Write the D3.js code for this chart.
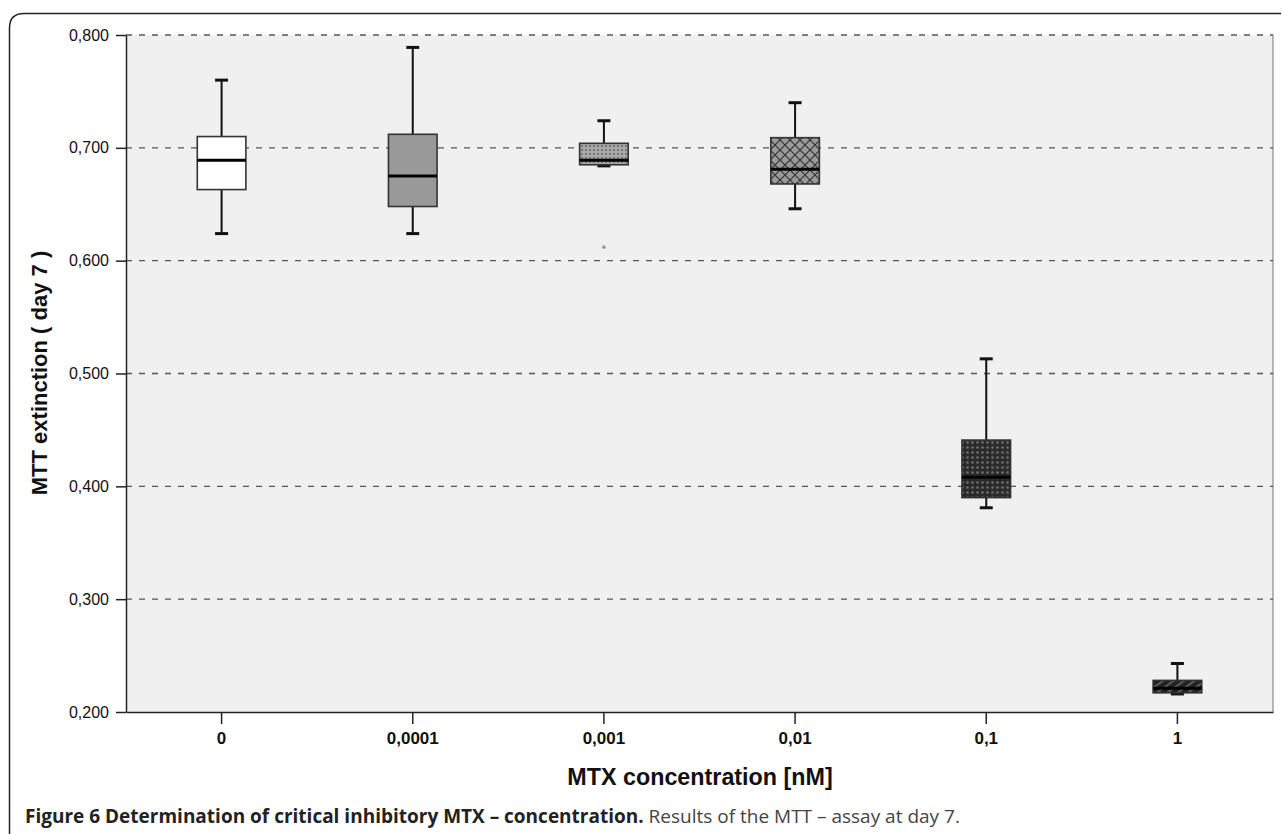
<!DOCTYPE html>
<html><head><meta charset="utf-8">
<script src="https://cdn.jsdelivr.net/npm/d3@7"></script>
<style>body{margin:0;background:#fff}svg{display:block}</style>
</head><body>
<svg id="c" width="1282" height="834"></svg>
<script>
const categories = ["0","0,0001","0,001","0,01","0,1","1"];
const whiskerLow  = [0.624, 0.624, 0.684, 0.646, 0.381, 0.216];
const q1Values    = [0.663, 0.648, 0.685, 0.668, 0.390, 0.217];
const medianValues= [0.689, 0.675, 0.689, 0.681, 0.408, 0.221];
const q3Values    = [0.710, 0.712, 0.704, 0.709, 0.441, 0.228];
const whiskerHigh = [0.760, 0.789, 0.724, 0.740, 0.513, 0.243];
const outliers    = [{cat:"0,001", value:0.612}];
const yTicks = [0.2,0.3,0.4,0.5,0.6,0.7,0.8];
const fills = ["#ffffff","#999999","url(#pDots)","url(#pDiamond)","url(#pDark)","url(#pStripe)"];

const svg = d3.select("#c");
const defs = svg.append("defs");
let p = defs.append("pattern").attr("id","pDots").attr("width",4).attr("height",4).attr("patternUnits","userSpaceOnUse");
p.append("rect").attr("width",4).attr("height",4).attr("fill","#a8a8a8");
p.append("circle").attr("cx",2).attr("cy",2).attr("r",1).attr("fill","#666");
p = defs.append("pattern").attr("id","pDiamond").attr("width",10).attr("height",10).attr("patternUnits","userSpaceOnUse");
p.append("rect").attr("width",10).attr("height",10).attr("fill","#9a9a9a");
p.append("path").attr("d","M0,0L10,10M10,0L0,10").attr("stroke","#333").attr("stroke-width",1.2);
p = defs.append("pattern").attr("id","pDark").attr("width",5).attr("height",5).attr("patternUnits","userSpaceOnUse");
p.append("rect").attr("width",5).attr("height",5).attr("fill","#2a2a2a");
p.append("circle").attr("cx",2.5).attr("cy",2.5).attr("r",1.3).attr("fill","#707070");
p = defs.append("pattern").attr("id","pStripe").attr("width",6).attr("height",6).attr("patternUnits","userSpaceOnUse").attr("patternTransform","rotate(-35)");
p.append("rect").attr("width",6).attr("height",6).attr("fill","#222");
p.append("rect").attr("width",6).attr("height",1.6).attr("fill","#6a6a6a");

svg.append("path")
  .attr("d","M9.5,834 L9.5,28 Q9.5,13.5 24,13.5 L1281,13.5")
  .attr("fill","none").attr("stroke","#222").attr("stroke-width",1.5);

const L=126, R=1273, T=35, B=712;
const x = d3.scaleBand().domain(categories).range([L,R]);
const y = d3.scaleLinear().domain([0.2,0.8]).range([B,T]);

svg.append("rect").attr("x",L).attr("y",T).attr("width",R-L).attr("height",B-T).attr("fill","#f0f0f0");
svg.append("line").attr("x1",R).attr("x2",R).attr("y1",T).attr("y2",B).attr("stroke","#777").attr("stroke-width",1);

svg.append("g").selectAll("line").data(yTicks.filter(d=>d>0.2)).join("line")
  .attr("x1",L).attr("x2",R).attr("y1",d=>y(d)).attr("y2",d=>y(d))
  .attr("stroke","#555").attr("stroke-width",1.3).attr("stroke-dasharray","6 7");

const fmt = d => d3.format(".3f")(d).replace(".",",");
const ya = svg.append("g").attr("transform",`translate(${L},0)`)
  .call(d3.axisLeft(y).tickValues(yTicks).tickFormat(fmt).tickSize(10).tickSizeOuter(0).tickPadding(7));
ya.attr("font-size",null).attr("font-family",null);
ya.select(".domain").attr("stroke","#222").attr("stroke-width",1.5);
ya.selectAll(".tick line").attr("stroke","#222").attr("stroke-width",1.5);
ya.selectAll("text").style("font-family","'Liberation Sans', Arial, sans-serif").style("font-size","16px").attr("fill","#111");

const xa = svg.append("g").attr("transform",`translate(0,${B})`)
  .call(d3.axisBottom(x).tickSize(12).tickSizeOuter(0).tickPadding(8));
xa.attr("font-size",null).attr("font-family",null);
xa.select(".domain").attr("stroke","#222").attr("stroke-width",1.5);
xa.selectAll(".tick line").attr("stroke","#222").attr("stroke-width",1.5);
xa.selectAll("text").style("font-family","'Liberation Sans', Arial, sans-serif").style("font-size","17px").style("font-weight","bold").attr("fill","#111");

svg.append("text").attr("transform","translate(47,373) rotate(-90)").attr("text-anchor","middle")
  .style("font-family","'Liberation Sans', Arial, sans-serif").style("font-size","22px").style("font-weight","bold").attr("fill","#111")
  .text("MTT extinction ( day 7 )");
svg.append("text").attr("x",700).attr("y",785).attr("text-anchor","middle")
  .style("font-family","'Liberation Sans', Arial, sans-serif").style("font-size","23.3px").style("font-weight","bold").attr("fill","#111")
  .text("MTX concentration [nM]");

const bw = 48.6, cw = 13;
const g = svg.append("g");
categories.forEach((c,i)=>{
  const cx = x(c) + x.bandwidth()/2;
  g.append("line").attr("x1",cx).attr("x2",cx).attr("y1",y(whiskerHigh[i])).attr("y2",y(q3Values[i])).attr("stroke","#111").attr("stroke-width",2);
  g.append("line").attr("x1",cx).attr("x2",cx).attr("y1",y(q1Values[i])).attr("y2",y(whiskerLow[i])).attr("stroke","#111").attr("stroke-width",2);
  g.append("line").attr("x1",cx-cw/2).attr("x2",cx+cw/2).attr("y1",y(whiskerHigh[i])).attr("y2",y(whiskerHigh[i])).attr("stroke","#111").attr("stroke-width",3);
  g.append("line").attr("x1",cx-cw/2).attr("x2",cx+cw/2).attr("y1",y(whiskerLow[i])).attr("y2",y(whiskerLow[i])).attr("stroke","#111").attr("stroke-width",3);
  g.append("rect").attr("x",cx-bw/2).attr("y",y(q3Values[i])).attr("width",bw).attr("height",y(q1Values[i])-y(q3Values[i]))
    .attr("fill",fills[i]).attr("stroke","#333").attr("stroke-width",1.6);
  g.append("line").attr("x1",cx-bw/2).attr("x2",cx+bw/2).attr("y1",y(medianValues[i])).attr("y2",y(medianValues[i])).attr("stroke","#000").attr("stroke-width",3);
});
g.selectAll("circle.out").data(outliers).join("circle").attr("class","out")
  .attr("cx",d=>x(d.cat)+x.bandwidth()/2).attr("cy",d=>y(d.value)).attr("r",1.8).attr("fill","#999");

const cap = svg.append("text").attr("x",25).attr("y",823)
  .style("font-family","'Open Sans', 'Noto Sans', sans-serif").style("font-size","19px").attr("fill","#222");
cap.append("tspan").style("font-weight","bold").text("Figure 6 Determination of critical inhibitory MTX – concentration.");
cap.append("tspan").attr("fill","#444").text(" Results of the MTT – assay at day 7.");
</script>
</body></html>
